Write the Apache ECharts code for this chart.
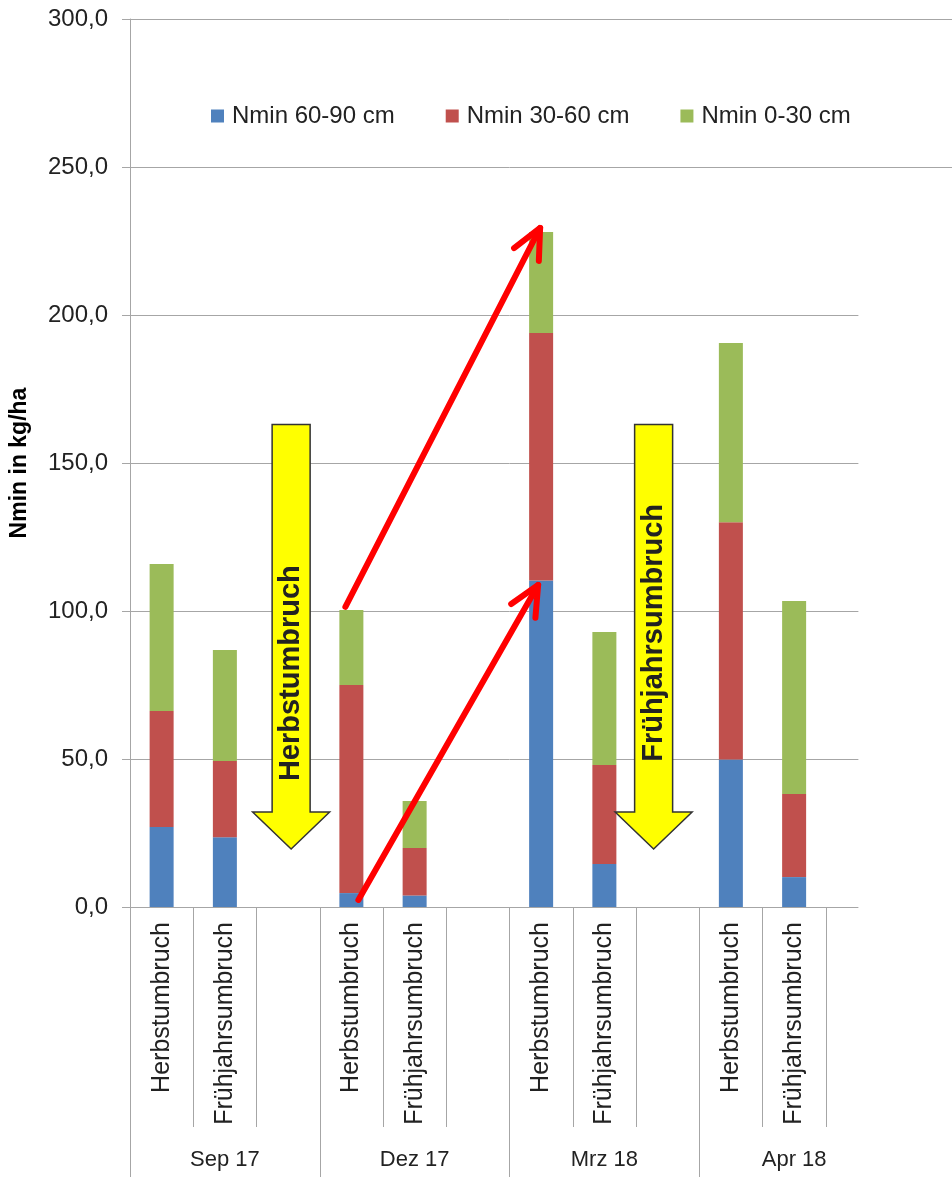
<!DOCTYPE html>
<html>
<head>
<meta charset="utf-8">
<title>Nmin</title>
<script src="https://cdn.jsdelivr.net/npm/echarts@6.0.0/dist/echarts.min.js"></script>
<style>
  body { margin: 0; background: #fff; }
</style>
</head>
<body>
<div id="main" style="width: 952px; height: 1177px;"></div>
<script type="text/javascript">
var chart = echarts.init(document.getElementById('main'));

// Kategorien (je Monat: Herbst-, Frühjahrsumbruch, Leerspalte)
var kategorien = ['Herbstumbruch', 'Frühjahrsumbruch', '',
                  'Herbstumbruch', 'Frühjahrsumbruch', '',
                  'Herbstumbruch', 'Frühjahrsumbruch', '',
                  'Herbstumbruch', 'Frühjahrsumbruch', ''];
var monate = ['Sep 17', 'Dez 17', 'Mrz 18', 'Apr 18'];

// Nmin in kg/ha je Bodenschicht
var nmin60_90 = [27.0, 23.6, null, 4.7, 3.9, null, 110.3, 14.5, null, 49.8, 10.1, null];
var nmin30_60 = [39.2, 25.7, null, 70.3, 16.0, null, 83.6, 33.5, null, 80.2, 28.1, null];
var nmin0_30  = [49.7, 37.5, null, 25.3, 15.9, null, 34.1, 44.9, null, 60.5, 65.2, null];

var farben = ['#4F81BD', '#C0504D', '#9BBB59'];
var grau = '#A6A6A6';
var schrift = 'Liberation Sans';

var option = {
    animation: false,
    color: farben,
    textStyle: { fontFamily: schrift },
    legend: {
        left: 211,
        top: 104,
        padding: 0,
        icon: 'rect',
        itemWidth: 13,
        itemHeight: 13,
        itemGap: 51,
        textStyle: { fontSize: 24, color: '#222', padding: [0, 0, 0, 3] },
        data: ['Nmin 60-90 cm', 'Nmin 30-60 cm', 'Nmin 0-30 cm']
    },
    grid: { left: 130, right: 63, top: 19, bottom: 270, outerBoundsMode: 'none' },
    xAxis: [{
        type: 'category',
        data: kategorien,
        position: 'bottom',
        axisLine: { lineStyle: { color: grau } },
        axisTick: { show: true, interval: 0, length: 220, lineStyle: { color: grau } },
        axisLabel: { interval: 0, rotate: 90, margin: 15, fontSize: 25, color: '#222' }
    }, {
        type: 'category',
        data: monate,
        position: 'bottom',
        axisLine: { show: false },
        axisTick: { show: true, interval: 0, length: 270, lineStyle: { color: grau } },
        axisLabel: { interval: 0, margin: 242, fontSize: 22, color: '#222' }
    }],
    yAxis: {
        type: 'value',
        min: 0,
        max: 300,
        interval: 50,
        name: 'Nmin in kg/ha',
        nameLocation: 'middle',
        nameGap: 99,
        nameTextStyle: { fontSize: 23, fontWeight: 'bold', color: '#000' },
        axisLine: { show: true, lineStyle: { color: grau } },
        axisTick: { show: true, length: 8, lineStyle: { color: grau } },
        splitLine: { lineStyle: { color: grau } },
        axisLabel: {
            fontSize: 24,
            margin: 22,
            color: '#222',
            formatter: function(v) { return v.toFixed(1).replace('.', ','); }
        }
    },
    series: [{
        name: 'Nmin 60-90 cm', type: 'bar', stack: 'nmin', barWidth: 24, data: nmin60_90
    }, {
        name: 'Nmin 30-60 cm', type: 'bar', stack: 'nmin', barWidth: 24, data: nmin30_60
    }, {
        name: 'Nmin 0-30 cm', type: 'bar', stack: 'nmin', barWidth: 24, data: nmin0_30
    }]
};

chart.setOption(option);

// Anmerkungen: Pfeile in Datenkoordinaten
function px(idx, wert) {
    return chart.convertToPixel({ xAxisIndex: 0, yAxisIndex: 0 }, [idx, wert]);
}

function roterPfeil(von, nach) {
    var a = px(von[0], von[1]);
    var b = px(nach[0], nach[1]);
    a[0] += von[2];
    b[0] += nach[2];
    var ang = Math.atan2(b[1] - a[1], b[0] - a[0]);
    var L = 33, w = 25 * Math.PI / 180;
    var h1 = [b[0] - L * Math.cos(ang - w), b[1] - L * Math.sin(ang - w)];
    var h2 = [b[0] - L * Math.cos(ang + w), b[1] - L * Math.sin(ang + w)];
    var st = { stroke: '#FF0000', lineWidth: 6, lineCap: 'round', lineJoin: 'round', fill: null };
    return [
        { type: 'line', z: 100, shape: { x1: a[0], y1: a[1], x2: b[0], y2: b[1] }, style: st },
        { type: 'polyline', z: 100, shape: { points: [h1, b, h2] }, style: st }
    ];
}

function gelberPfeil(idx, dx, oben, kopf, spitze, text, textWert) {
    var cx = px(idx, 0)[0] + dx;
    var yO = px(idx, oben)[1], yK = px(idx, kopf)[1], yS = px(idx, spitze)[1];
    var s = 19, k = 38.5;
    return [{
        type: 'polygon',
        z: 90,
        shape: { points: [[cx - s, yO], [cx + s, yO], [cx + s, yK], [cx + k, yK], [cx, yS], [cx - k, yK], [cx - s, yK]] },
        style: { fill: '#FFFF00', stroke: '#333', lineWidth: 1.5 }
    }, {
        type: 'text',
        z: 91,
        x: cx,
        y: px(idx, textWert)[1],
        rotation: Math.PI / 2,
        style: {
            text: text,
            font: 'bold 29px ' + schrift,
            fill: '#222',
            align: 'center',
            verticalAlign: 'middle'
        }
    }];
}

// Plotfläche rechts wie im Original bei ca. x=858 abschneiden,
// nur die beiden oberen Gitterlinien laufen bis zum Rand
var ende = px(11, 0)[0] + 1;
var abdeckung = [{
    type: 'rect', z: 80,
    shape: { x: ende, y: px(0, 225)[1], width: 952 - ende, height: 1177 },
    style: { fill: '#fff' }
}];
[300, 250].forEach(function(w) {
    var y = Math.round(px(0, w)[1]) + 0.5;
    abdeckung.push({
        type: 'line', z: 80,
        shape: { x1: px(11, 0)[0], y1: y, x2: 952, y2: y },
        style: { stroke: grau, lineWidth: 1 }
    });
});

var grafik = abdeckung
    .concat(gelberPfeil(2, 3, 163, 32.1, 19.6, 'Herbstumbruch', 79))
    .concat(gelberPfeil(8, -14, 163, 32.1, 19.6, 'Frühjahrsumbruch', 92.6))
    .concat(roterPfeil([3, 101.4, -6], [6, 229.4, -1]))
    .concat(roterPfeil([3, 2.4, 7], [6, 108.8, -3]));

chart.setOption({ graphic: grafik });

window.addEventListener('resize', function() {
    chart.resize();
});
</script>
</body>
</html>
